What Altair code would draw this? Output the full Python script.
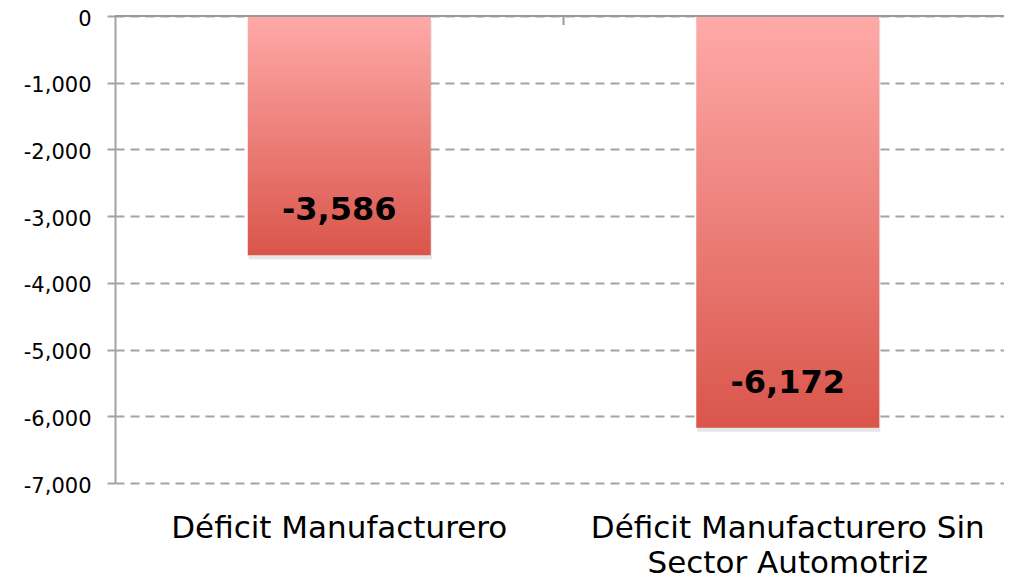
import altair as alt
import pandas as pd

categories = ["Déficit Manufacturero", "Déficit Manufacturero Sin Sector Automotriz"]
values = [-3586, -6172]
y_ticks = [0, -1000, -2000, -3000, -4000, -5000, -6000, -7000]

df = pd.DataFrame({"cat": categories, "val": values})

FONT = "DejaVu Sans"
GRAY = "#a3a3a3"
PI = 0.592
W = 897
STEP = W / len(categories)

x_enc = alt.X(
    "cat:N", sort=categories, title=None,
    scale=alt.Scale(paddingInner=PI, paddingOuter=PI / 2),
    axis=alt.Axis(
        orient="bottom", domain=False, ticks=False, labelAngle=0,
        labelFont=FONT, labelFontSize=31, labelColor="black",
        labelPadding=30, labelLineHeight=35, labelLimit=0,
        labelExpr="split(replace(datum.label, ' Sin ', ' Sin|'), '|')",
    ),
)
y_enc = alt.Y(
    "val:Q", title=None,
    scale=alt.Scale(domain=[-7000, 0], nice=False),
    axis=alt.Axis(
        values=y_ticks, grid=True, gridDash=[9, 6], gridColor=GRAY, gridWidth=2,
        domainColor=GRAY, domainWidth=2, tickColor=GRAY, tickWidth=2, tickSize=8,
        labelFont=FONT, labelFontSize=21, labelColor="black", labelPadding=16,
        labelOffset=3,
        labelExpr="replace(format(datum.value, ','), '\u2212', '-')",
    ),
)

base = alt.Chart(df)

shadow = base.mark_bar(color="black", opacity=0.10, yOffset=4, xOffset=1).encode(x=x_enc, y=y_enc)

bars = base.mark_bar(
    color=alt.Gradient(
        gradient="linear", x1=0, x2=0, y1=0, y2=1,
        stops=[alt.GradientStop(color="#FFAAA8", offset=0),
               alt.GradientStop(color="#D9554B", offset=1)],
    )
).encode(x=x_enc, y=y_enc)

top_rule = base.mark_rule(color="#9a9a9a", strokeWidth=2).encode(y=alt.datum(0))

tick = base.transform_filter(
    alt.datum.cat == categories[0]
).mark_rule(color="#9a9a9a", strokeWidth=2, xOffset=STEP * PI / 2).encode(
    x=alt.X("cat:N", sort=categories, bandPosition=1),
    y=alt.datum(0),
    y2=alt.value(9),
)

text = base.transform_calculate(
    lbl="replace(format(datum.val, ','), '\u2212', '-')"
).mark_text(
    font=FONT, fontSize=32, fontWeight="bold", color="black", dy=-45, baseline="middle"
).encode(x=x_enc, y="val:Q", text="lbl:N")

chart = alt.layer(shadow, bars, top_rule, tick, text).properties(
    width=W, height=467,
    autosize=alt.AutoSizeParams(type="none"),
    padding={"left": 107, "top": 8, "right": -8, "bottom": 96},
).configure_view(stroke="transparent")

chart.save("out.html", embed_options={"renderer": "svg", "actions": False})
